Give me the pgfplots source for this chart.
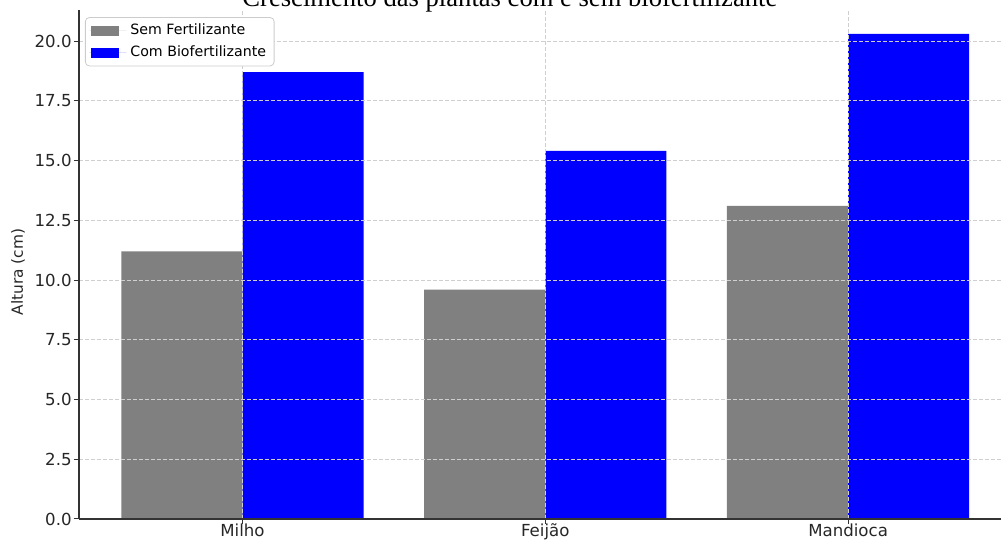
\documentclass[border=0pt]{standalone}
\usepackage{pgfplots}
\pgfplotsset{compat=1.18}
\usepackage{fontspec}
\setmainfont{DejaVu Sans}
\newfontfamily\titlefont{Liberation Serif}
\definecolor{mplgray}{HTML}{808080}
\definecolor{mplblue}{HTML}{0000FF}
\definecolor{gridc}{HTML}{CFCFCF}
\begin{document}
\begin{tikzpicture}
\useasboundingbox (-39.5pt,-10.5pt) rectangle (461pt,259.5pt);
\clip (-39.5pt,-10.5pt) rectangle (461pt,259.5pt);
\begin{axis}[
  at={(0pt,0pt)}, anchor=south west,
  scale only axis, clip=false,
  width=466.3pt, height=254.5pt,
  xmin=-0.54, xmax=2.54,
  ymin=0, ymax=21.30,
  ybar, bar width=0.4,
  xtick={0,1,2},
  xticklabels={Milho,Feijão,Mandioca},
  ytick={0,2.5,5,7.5,10,12.5,15,17.5,20},
  yticklabels={0.0,2.5,5.0,7.5,10.0,12.5,15.0,17.5,20.0},
  axis x line*=bottom, axis y line*=left,
  axis line style={black!80, line width=0.6pt, -},
  tick align=outside,
  major tick length=2.5pt,
  tick style={black!80, line width=0.5pt},
  ticklabel style={font=\fontsize{8.3}{10}\selectfont, text=black!85},
  yticklabel style={inner sep=0pt, xshift=-1pt},
  xticklabel style={inner sep=0pt, yshift=0.3pt, anchor=north},
  grid=major,
  major grid style={gridc, dash pattern=on 2pt off 1pt, line width=0.4pt},
  axis on top,
  ylabel={Altura (cm)},
  ylabel style={at={(axis description cs:-0.0654,0.485)}, anchor=center, font=\fontsize{7.7}{9}\selectfont, text=black!85},
  legend style={at={(axis description cs:0.0064,0.986)}, anchor=north west,
    draw=black!20, rounded corners=2pt, fill=white,
    font=\fontsize{7.1}{8.5}\selectfont, inner xsep=2pt, inner ysep=1.2pt, row sep=0pt,
    legend cell align=left},
  legend image code/.code={\fill[#1, sharp corners] (1pt,-2.5pt) rectangle (15pt,2.5pt); \path (0pt,0pt) -- (18.5pt,0pt);},
]
\addplot[fill=mplgray, draw=none, bar shift=-0.2] coordinates {(0,11.2) (1,9.6) (2,13.1)};
\addlegendentry{Sem Fertilizante}
\addplot[fill=mplblue, draw=none, bar shift=0.2] coordinates {(0,18.7) (1,15.4) (2,20.3)};
\addlegendentry{Com Biofertilizante}
\node[anchor=base, inner sep=0pt, font=\fontsize{13.3}{15}\selectfont\titlefont] at (rel axis cs:0.462,1.0059) {Crescimento das plantas com e sem biofertilizante};
\end{axis}
\end{tikzpicture}
\end{document}
